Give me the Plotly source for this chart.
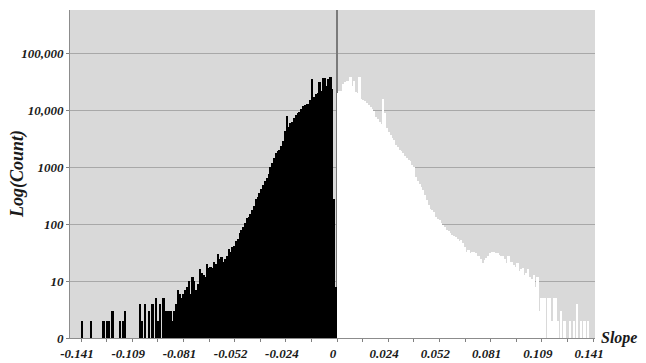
import plotly.graph_objects as go

# Histogram of slopes, bin width 0.001
bin_width = 0.001
neg_start = -0.1405   # centre of first negative bin
pos_start = 0.0005    # centre of first positive bin

neg_counts = [
    2, None, None, None, None, 2, None, None, None, None,
    None, None, 2, None, 2, 2, None, 3, None, None,
    None, 2, None, 2, 3, None, None, None, None, None,
    None, None, 4, 2, None, 4, None, 3, None, 4,
    None, 5, 2, 4, None, 5, 3, 3, 3, 3,
    2, 3, 4, 7, 6, 5, 6, 7, 8, 10,
    6, 12, 10, 7, 9, 16, 14, 13, 12, 20,
    17, 18, 17, 22, 20, 30, 24, 26, 22, 24,
    28, 36, 33, 40, 42, 50, 55, 70, 80, 90,
    105, 130, 135, 150, 178, 210, 277, 300, 350, 415,
    480, 580, 650, 760, 1000, 1200, 1450, 1790, 1900, 2040,
    2400, 2850, 4300, 8000, 5150, 6000, 6300, 7200, 8200, 8800,
    9400, 10500, 12000, 12500, 12800, 13100, 14900, 35500, 17000, 19500,
    20000, 31800, 22000, 36600, 37000, 27000, 36000, 38000, 24000, 280,
    8,
]

pos_counts = [
    20000, 22000, 22000, 29000, 31000, 33000, 32000, 38000, 27000, 33000,
    21000, 20000, 38000, 16000, 15000, 14400, 13500, 12300, 11500, 10700,
    9500, 7700, 7000, 6300, 5800, 16000, 8800, 4840, 4200, 3700,
    3300, 3060, 2500, 2300, 2040, 1900, 1790, 1600, 1470, 1350,
    1280, 1100, 1000, 660, 580, 505, 450, 390, 320, 260,
    220, 187, 175, 163, 134, 125, 120, 105, 95, 90,
    80, 75, 70, 65, 62, 60, 55, 50, 52, 47,
    40, 33, 35, 31, 33, 32, 31, 28, 27, 24,
    21, 23, 25, 28, 31, 32, 33, 31, 31, 29,
    27, 27, 24, 21, 27, 22, 22, 19, 18, 21,
    15, 16, 17, 13, 14, 16, 12, 11, 13, 8,
    12, 3, 5, 5, 5, None, 5, 5, 2, 5,
    5, 2, None, 3, None, 2, None, None, 2, None,
    2, None, 4, None, 2, None, 2, None, 2, None, None,
]

x_tick_vals = [-0.141, -0.1269, -0.1128, -0.0987, -0.0846, -0.0705, -0.0564,
               -0.0423, -0.0282, -0.0141, 0.0, 0.0141, 0.0282, 0.0423, 0.0564,
               0.0705, 0.0846, 0.0987, 0.1128, 0.1269, 0.141]
x_tick_text = ["-0.141", "", "-0.109", "", "-0.081", "", "-0.052", "", "-0.024", "",
               "0", "", "0.024", "", "0.052", "", "0.081", "", "0.109", "", "0.141"]

y_tick_vals = [1, 10, 100, 1000, 10000, 100000]
y_tick_text = ["0", "10", "100", "1000", "10,000", "100,000"]

serif = "Liberation Serif"
tick_font = dict(family=serif, size=13, color="#1a1a1a", weight="bold", style="italic")
ytitle_font = dict(family=serif, size=18, color="#1a1a1a", weight="bold", style="italic")
xtitle_font = dict(family=serif, size=16, color="#1a1a1a", weight="bold", style="italic")

fig = go.Figure()
fig.add_trace(go.Bar(x0=neg_start, dx=bin_width, y=neg_counts,
                     marker=dict(color="#000000", line=dict(width=0)),
                     showlegend=False))
fig.add_trace(go.Bar(x0=pos_start, dx=bin_width, y=pos_counts,
                     marker=dict(color="#ffffff", line=dict(width=0)),
                     showlegend=False))

fig.update_layout(
    width=638, height=355,
    margin=dict(l=62, r=51, t=2, b=20),
    paper_bgcolor="#ffffff",
    plot_bgcolor="#d9d9d9",
    bargap=0,
    barmode="overlay",
    xaxis=dict(
        range=[-0.1471, 0.1421],
        tickmode="array", tickvals=x_tick_vals, ticktext=x_tick_text,
        ticks="outside", ticklen=3, tickcolor="#808080",
        showgrid=False,
        showline=True, linecolor="#8c8c8c", linewidth=1,
        zeroline=True, zerolinecolor="#7a7a7a", zerolinewidth=1.5,
        tickfont=tick_font, ticklabelshift=-4,
    ),
    yaxis=dict(
        type="log", range=[0, 5.76],
        tickmode="array", tickvals=y_tick_vals, ticktext=y_tick_text,
        ticks="outside", ticklen=3, tickcolor="#808080",
        showgrid=True, gridcolor="#a8a8a8", gridwidth=1,
        showline=True, linecolor="#8c8c8c", linewidth=1,
        tickfont=tick_font,
    ),
    annotations=[
        dict(text="Slope", xref="paper", yref="paper", x=1.008, y=0,
             xanchor="left", yanchor="middle", showarrow=False,
             font=xtitle_font),
        dict(text="Log(Count)", xref="paper", yref="paper", x=-0.101, y=0.5,
             xanchor="center", yanchor="middle", textangle=-90, showarrow=False,
             font=ytitle_font),
    ],
)

fig.write_html("out.html")
